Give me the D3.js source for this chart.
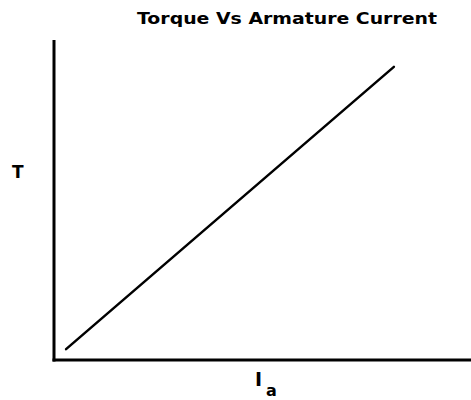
<!DOCTYPE html>
<html><head><meta charset="utf-8">
<script src="https://cdn.jsdelivr.net/npm/d3@7"></script>
<style>body{margin:0;background:#fff}svg{display:block}</style>
</head><body>
<script>
const currentIa = [2.9, 81.7];
const torqueT = [3.4, 91.6];
const title = "Torque Vs Armature Current";
const yLabel = "T";
const xLabel = "I";
const xLabelSub = "a";

const W = 471, H = 400;
const svg = d3.select("body").append("svg").attr("width", W).attr("height", H);
const x = d3.scaleLinear().domain([0, 100]).range([54, 470]);
const y = d3.scaleLinear().domain([0, 100]).range([360, 40]);
const font = "DejaVu Sans, Liberation Sans, Arial, sans-serif";

svg.append("line").attr("x1", x(0)).attr("x2", x(0)).attr("y1", y(100)).attr("y2", y(0) + 1.5)
  .attr("stroke", "#000").attr("stroke-width", 3);
svg.append("line").attr("x1", x(0) - 1.5).attr("x2", W).attr("y1", y(0)).attr("y2", y(0))
  .attr("stroke", "#000").attr("stroke-width", 3);

const pts = currentIa.map((v, i) => [v, torqueT[i]]);
svg.append("path").attr("d", d3.line().x(d => x(d[0])).y(d => y(d[1]))(pts))
  .attr("fill", "none").attr("stroke", "#000").attr("stroke-width", 2.5).attr("stroke-linecap", "round");

svg.append("text").attr("x", 137).attr("y", 24)
  .attr("font-family", font).attr("font-weight", "bold").attr("font-size", 16)
  .attr("textLength", 300).attr("lengthAdjust", "spacingAndGlyphs")
  .text(title);
svg.append("text").attr("x", 12).attr("y", 178)
  .attr("font-family", font).attr("font-weight", "bold").attr("font-size", 17)
  .text(yLabel);
svg.append("text").attr("x", 255).attr("y", 386)
  .attr("font-family", font).attr("font-weight", "bold").attr("font-size", 19)
  .text(xLabel);
svg.append("text").attr("x", 266).attr("y", 396)
  .attr("font-family", font).attr("font-weight", "bold").attr("font-size", 16)
  .text(xLabelSub);
</script>
</body></html>
